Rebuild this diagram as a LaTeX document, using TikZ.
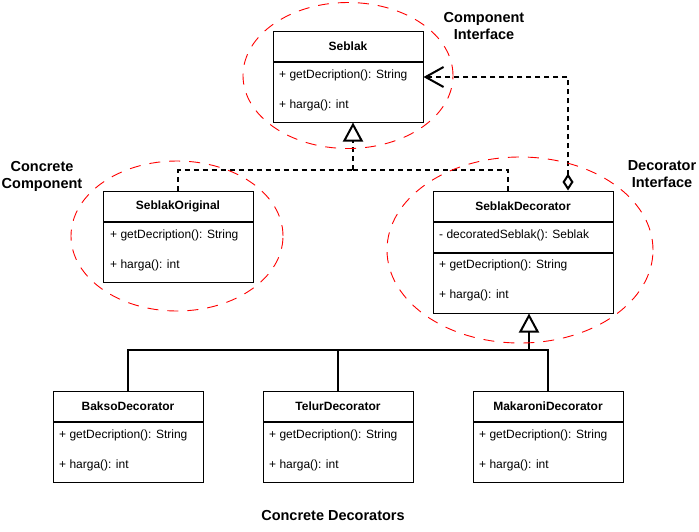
\documentclass[tikz,border=0pt]{standalone}
\usepackage{fontspec}
\setmainfont{Liberation Sans}
\usetikzlibrary{arrows.meta,positioning}

\begin{document}
\begin{tikzpicture}[x=1pt,y=-1pt,
  classname/.style={draw,fill=white,line width=1pt,minimum width=150pt,minimum height=30pt,inner sep=0pt,font=\fontsize{12}{14}\selectfont\bfseries},
  classops/.style={draw,fill=white,line width=1pt,minimum width=150pt,minimum height=60pt,inner sep=0pt},
  member/.style={anchor=west,inner sep=0pt,font=\fontsize{12}{14}\selectfont},
  groupline/.style={red,line width=0.9pt,dash pattern=on 11pt off 9pt},
  grouplabel/.style={font=\fontsize{14.5}{17}\selectfont\bfseries,align=center,inner sep=0pt},
  dashline/.style={line width=2pt,dash pattern=on 5pt off 4pt},
  solidline/.style={line width=2pt},
  hollowtri/.style={-{Triangle[open,length=19pt,width=20pt]}}]
\useasboundingbox (0,0) rectangle (699,531);

% component interface
\node[classname] (seblak) at (348,46) {Seblak};
\node[classops,below=0pt of seblak] (seblakops) {};
\node[member] (seblakm1) at (279,75) {+ getDecription(): String};
\node[member] (seblakm2) at (279,105) {+ harga(): int};

% concrete component
\node[classname] (original) at (178,206) {SeblakOriginal};
\node[classops,below=0pt of original] (originalops) {};
\node[member] (originalm1) at (110,235) {+ getDecription(): String};
\node[member] (originalm2) at (110,265) {+ harga(): int};

% decorator
\node[classname,minimum width=180pt] (deco) at (523,206) {SeblakDecorator};
\node[classops,minimum width=180pt,minimum height=30pt,below=0pt of deco] (decofield) {};
\node[classops,minimum width=180pt,below=0pt of decofield] (decoops) {};
\node[member] (decof1) at (439,235) {- decoratedSeblak(): Seblak};
\node[member] (decom1) at (439,265) {+ getDecription(): String};
\node[member] (decom2) at (439,295) {+ harga(): int};

% concrete decorators
\node[classname] (bakso) at (128,406) {BaksoDecorator};
\node[classops,below=0pt of bakso] (baksoops) {};
\node[member] (baksom1) at (59,435) {+ getDecription(): String};
\node[member] (baksom2) at (59,465) {+ harga(): int};

\node[classname] (telur) at (338,406) {TelurDecorator};
\node[classops,below=0pt of telur] (telurops) {};
\node[member] (telurm1) at (269,435) {+ getDecription(): String};
\node[member] (telurm2) at (269,465) {+ harga(): int};

\node[classname] (makaroni) at (548,406) {MakaroniDecorator};
\node[classops,below=0pt of makaroni] (makaroniops) {};
\node[member] (makaronim1) at (479,435) {+ getDecription(): String};
\node[member] (makaronim2) at (479,465) {+ harga(): int};

% realization
\coordinate (realjoin) at (353,170);
\draw[dashline] (original.north) |- (realjoin);
\draw[dashline] ([xshift=-15pt]deco.north) |- (realjoin);
\draw[dashline,hollowtri] (realjoin) -- (realjoin |- seblakops.south);

% aggregation
\draw[dashline,{Diamond[open,length=17pt,width=11pt]}-{Straight Barb[length=18pt,width=20pt]}]
  ([xshift=45pt]deco.north) |- ([yshift=15pt]seblakops.east);

% inheritance
\coordinate (inhjoin) at (529,350);
\draw[solidline] (bakso.north) |- (inhjoin);
\draw[solidline] (telur.north) |- (inhjoin);
\draw[solidline] (makaroni.north) |- (inhjoin);
\draw[solidline,hollowtri] (inhjoin) -- (inhjoin |- decoops.south);

% groups
\draw[groupline] (348,75.5) ellipse [x radius=105pt,y radius=73pt];
\draw[groupline] (177,236) ellipse [x radius=106pt,y radius=75pt];
\draw[groupline] (520,250) ellipse [x radius=133pt,y radius=93pt];

\node[grouplabel] (lblcomp) at (484,26) {Component\\Interface};
\node[grouplabel] (lblconc) at (42,176) {Concrete\\Component};
\node[grouplabel] (lbldeco) at (662,174) {Decorator\\Interface};
\node[grouplabel] (lbldecos) at (333,515) {Concrete Decorators};
\end{tikzpicture}
\end{document}
